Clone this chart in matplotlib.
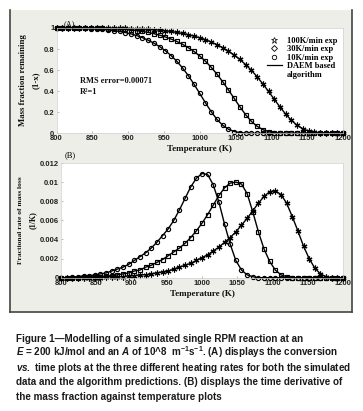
import matplotlib
matplotlib.use("Agg")
import matplotlib.pyplot as plt
from matplotlib.lines import Line2D
from matplotlib.patches import Rectangle

# temperatures (K) sampled in the plots
temp = [800, 808, 816, 824, 832, 840, 848, 856, 864, 872,
        880, 888, 896, 904, 912, 920, 928, 936, 944, 952,
        960, 968, 976, 984, 992, 1000, 1008, 1016, 1024, 1032,
        1040, 1048, 1056, 1064, 1072, 1080, 1088, 1096, 1104, 1112,
        1120, 1128, 1136, 1144, 1152, 1160, 1168, 1176, 1184, 1192, 1200]

# (A) mass fraction remaining (1-x)
mass_10 = [1.000, 1.000, 1.000, 0.999, 0.998, 0.996, 0.994, 0.991, 0.987, 0.982,
           0.976, 0.968, 0.957, 0.944, 0.928, 0.908, 0.884, 0.856, 0.823, 0.784,
           0.738, 0.684, 0.621, 0.548, 0.466, 0.378, 0.289, 0.205, 0.132, 0.077,
           0.039, 0.017, 0.007, 0.002, 0.001, 0, 0, 0, 0, 0,
           0, 0, 0, 0, 0, 0, 0, 0, 0, 0, 0]
mass_30 = [1.000, 1.000, 1.000, 1.000, 1.000, 0.999, 0.998, 0.997, 0.996, 0.994,
           0.992, 0.990, 0.986, 0.981, 0.975, 0.967, 0.958, 0.946, 0.932, 0.915,
           0.895, 0.872, 0.845, 0.813, 0.777, 0.734, 0.684, 0.627, 0.562, 0.490,
           0.412, 0.332, 0.252, 0.177, 0.114, 0.067, 0.035, 0.017, 0.006, 0.002,
           0.001, 0, 0, 0, 0, 0, 0, 0, 0, 0, 0]
mass_100 = [1.000, 1.000, 1.000, 1.000, 1.000, 1.000, 1.000, 1.000, 1.000, 0.999,
            0.998, 0.997, 0.996, 0.994, 0.992, 0.990, 0.987, 0.983, 0.979, 0.973,
            0.967, 0.958, 0.948, 0.937, 0.923, 0.907, 0.889, 0.867, 0.842, 0.814,
            0.781, 0.744, 0.701, 0.653, 0.599, 0.538, 0.470, 0.398, 0.323, 0.250,
            0.182, 0.123, 0.076, 0.043, 0.021, 0.008, 0.003, 0.001, 0, 0, 0]

# (B) fractional rate of mass loss (1/K)
rate_10 = [0, 0, 0.0001, 0.0001, 0.0002, 0.0002, 0.0003, 0.0004, 0.0005, 0.0007,
           0.0009, 0.0011, 0.0014, 0.0018, 0.0022, 0.0026, 0.0031, 0.0037, 0.0044, 0.0051,
           0.0060, 0.0071, 0.0083, 0.0095, 0.0104, 0.0109, 0.0108, 0.0097, 0.0079, 0.0056,
           0.0035, 0.0018, 0.0008, 0.0003, 0.0001, 0, 0, 0, 0, 0,
           0, 0, 0, 0, 0, 0, 0, 0, 0, 0, 0]
rate_30 = [0, 0, 0, 0, 0.0001, 0.0001, 0.0001, 0.0001, 0.0002, 0.0002,
           0.0003, 0.0004, 0.0005, 0.0007, 0.0008, 0.0011, 0.0013, 0.0016, 0.0019, 0.0023,
           0.0027, 0.0031, 0.0036, 0.0042, 0.0049, 0.0057, 0.0066, 0.0076, 0.0086, 0.0094,
           0.0099, 0.0100, 0.0098, 0.0088, 0.0069, 0.0048, 0.0030, 0.0017, 0.0008, 0.0003,
           0.0001, 0, 0, 0, 0, 0, 0, 0, 0, 0, 0]
rate_100 = [0, 0, 0, 0, 0, 0, 0, 0, 0.0001, 0.0001,
            0.0001, 0.0001, 0.0002, 0.0002, 0.0003, 0.0003, 0.0004, 0.0005, 0.0006, 0.0007,
            0.0009, 0.0011, 0.0013, 0.0015, 0.0018, 0.0021, 0.0024, 0.0028, 0.0032, 0.0037,
            0.0042, 0.0048, 0.0055, 0.0062, 0.0070, 0.0078, 0.0085, 0.0090, 0.0091, 0.0087,
            0.0078, 0.0064, 0.0049, 0.0033, 0.0020, 0.0010, 0.0004, 0.0001, 0, 0, 0]

x_ticks = [800, 850, 900, 950, 1000, 1050, 1100, 1150, 1200]
mass_ticks = [0, 0.2, 0.4, 0.6, 0.8, 1]
mass_ticklabels = ["0", "0.2", "0.4", "0.6", "0.8", "1"]
rate_ticks = [0, 0.002, 0.004, 0.006, 0.008, 0.01, 0.012]
rate_ticklabels = ["0", "0.002", "0.004", "0.006", "0.008", "0.01", "0.012"]
legend_labels = ["100K/min exp", "30K/min exp", "10K/min exp", "DAEM based", "algorithm"]

caption = [
    "Figure 1\u2014Modelling of a simulated single RPM reaction at an",
    "$E$ = 200 kJ/mol and an $A$ of 10^8  m$^{-1}$s$^{-1}$. (A) displays the conversion",
    "$vs.$ time plots at the three different heating rates for both the simulated",
    "data and the algorithm predictions. (B) displays the time derivative of",
    "the mass fraction against temperature plots",
]

SERIF = ["Liberation Serif", "DejaVu Serif"]
SANS = ["Liberation Sans", "DejaVu Sans"]
plt.rcParams["mathtext.fontset"] = "custom"
plt.rcParams["mathtext.it"] = "Liberation Sans:bold:italic"
plt.rcParams["mathtext.rm"] = "Liberation Sans:bold"
plt.rcParams["mathtext.bf"] = "Liberation Sans:bold"

W, H = 363, 411
fig = plt.figure(figsize=(W / 100, H / 100), dpi=100, facecolor="white")

# grey MATLAB figure window
fig.add_artist(Rectangle((10 / W, 1 - 312 / H), 342 / W, 302 / H, transform=fig.transFigure,
                         facecolor="#eeeee9", edgecolor="none", zorder=-5))
for xs, ys in [([10, 10], [10, 312]), ([352, 352], [10, 312]), ([10, 352], [312, 312])]:
    fig.add_artist(Line2D([x / W for x in xs], [1 - y / H for y in ys], transform=fig.transFigure,
                          color="#444444", lw=1.2, zorder=-4))

ax1 = fig.add_axes([56.5 / W, 1 - 133.3 / H, 286.5 / W, 105.3 / H])
ax2 = fig.add_axes([61 / W, 1 - 277.7 / H, 282 / W, 114.7 / H])

series = [(mass_100, rate_100, (6, 2, 0), 4.2), (mass_30, rate_30, "s", 2.6), (mass_10, rate_10, "o", 3.0)]
for ax, idx in [(ax1, 0), (ax2, 1)]:
    for s in series:
        ax.plot(temp, s[idx], color="black", lw=1.0, marker=s[2], ms=s[3],
                mfc="none", mec="black", mew=0.85, clip_on=False)

tick_font = dict(family=SANS, size=5.5, weight="bold", color="#222222")
lab_font = dict(family=SERIF, weight="bold", color="#111111")
for ax, yt, ytl, ylim in [(ax1, mass_ticks, mass_ticklabels, (0, 1)),
                          (ax2, rate_ticks, rate_ticklabels, (0, 0.012))]:
    ax.set_xlim(800, 1200)
    ax.set_ylim(*ylim)
    ax.set_xticks(x_ticks)
    ax.set_xticklabels([str(t) for t in x_ticks], fontdict=tick_font)
    ax.set_yticks(yt)
    ax.set_yticklabels(ytl, fontdict=tick_font)
    ax.tick_params(direction="in", length=1.5, width=0.4, color="#888888", pad=1.5)
    for sp in ax.spines.values():
        sp.set_color("#d0d0d0")
        sp.set_linewidth(0.5)
    ax.set_xlabel("Temperature (K)", fontsize=6.5, labelpad=2, **lab_font)

ax1.text(0.025, 1.0, "(A)", transform=ax1.transAxes, fontsize=6, family=SERIF, va="bottom", ha="left")
fig.text(70 / W, 1 - 155 / H, "(B)", fontsize=6, family=SERIF, ha="center", va="center")

fig.text(23 / W, 1 - 80 / H, "Mass fraction remaining", rotation=90, fontsize=6.3,
         ha="center", va="center", **lab_font)
fig.text(36 / W, 1 - 80 / H, "(1-x)", rotation=90, fontsize=6.3, ha="center", va="center", **lab_font)
fig.text(21 / W, 1 - 220 / H, "Fractional rate of mass loss", rotation=90, fontsize=5.4,
         ha="center", va="center", **lab_font)
fig.text(33 / W, 1 - 220 / H, "(1/K)", rotation=90, fontsize=5.8, ha="center", va="center", **lab_font)

ax1.text(80 / W, 1 - 81 / H, "RMS error=0.00071", transform=fig.transFigure, fontsize=6,
         ha="left", va="center", **lab_font)
ax1.text(80 / W, 1 - 92 / H, "R\u00b2=1", transform=fig.transFigure, fontsize=6,
         ha="left", va="center", **lab_font)

handles = [Line2D([], [], ls="none", marker="*", ms=5, mfc="none", mec="black", mew=0.5),
           Line2D([], [], ls="none", marker="D", ms=3, mfc="none", mec="black", mew=0.6),
           Line2D([], [], ls="none", marker="o", ms=3.2, mfc="none", mec="black", mew=0.6),
           Line2D([], [], color="black", lw=0.9),
           Line2D([], [], ls="none")]
leg = ax1.legend(handles, legend_labels, loc="upper right", bbox_to_anchor=(1.0, 0.97),
                 frameon=False, prop=dict(family=SERIF, weight="bold", size=6),
                 labelspacing=0.05, handlelength=1.8, handletextpad=0.6, borderpad=0.2)

for i, line in enumerate(caption):
    fig.text(16 / W, 1 - (342 + i * 14.4) / H, line, fontsize=7.1, family=SANS, weight="bold",
             color="#1a1a1a", ha="left", va="baseline")

fig.savefig("out.png", dpi=100)
